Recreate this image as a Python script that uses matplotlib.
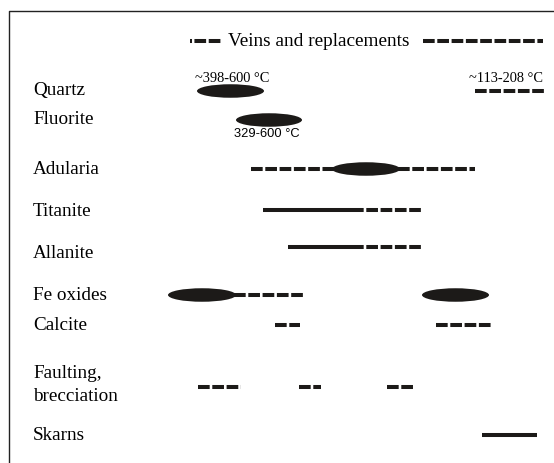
"""Paragenetic sequence sketch: minerals vs relative time (left = early)."""
import matplotlib
matplotlib.use("Agg")
import matplotlib.pyplot as plt
from matplotlib.patches import Ellipse

# rows (label, y-position of the bar)
minerals = ["Quartz", "Fluorite", "Adularia", "Titanite", "Allanite",
            "Fe oxides", "Calcite", "Faulting,\nbrecciation", "Skarns"]
row_y = [91, 120, 169, 210, 247, 295, 325, 387, 435]
label_y = [91, 120, 169, 212, 253, 295, 325, 385, 435]

# solid segments: (row, start, end)
solid = [("Titanite", 263, 352), ("Allanite", 288, 352), ("Skarns", 482, 537)]

# dashed segments: (row, start, end)
dashed = [
    ("Quartz", 475, 545),
    ("Adularia", 251, 334), ("Adularia", 398, 475),
    ("Titanite", 352, 423), ("Allanite", 352, 423),
    ("Fe oxides", 234, 305),
    ("Calcite", 275, 300), ("Calcite", 436, 491),
    ("Faulting,\nbrecciation", 198, 241),
    ("Faulting,\nbrecciation", 299, 321),
    ("Faulting,\nbrecciation", 387, 415),
]

# peak (ellipse) segments: (row, start, end)
peaks = [("Quartz", 197, 264), ("Fluorite", 236, 302), ("Adularia", 332, 400),
         ("Fe oxides", 168, 236), ("Fe oxides", 422, 489)]

# temperature notes: (text, x, y, font)
temps = [("~398-600 °C", 232, 78, "serif"), ("~113-208 °C", 506, 78, "serif"),
         ("329-600 °C", 267, 134, "sans")]

fig = plt.figure(figsize=(5.54, 4.63), dpi=100)
ax = fig.add_axes([0, 0, 1, 1])
ax.set_xlim(0, 554)
ax.set_ylim(463, 0)
ax.axis("off")

ink = "#1c1a18"
lw = 2.9
dash = (2.9, 0.65)
ypos = dict(zip(minerals, row_y))

# frame (left and top only visible)
ax.plot([9, 9, 554], [463, 11, 11], color="#222", lw=1.0)

serif = "Liberation Serif"
for name, y in zip(minerals, label_y):
    ax.text(33, y, name, family=serif, fontsize=13.8, va="center", ha="left",
            linespacing=1.5)

for name, x0, x1 in solid:
    ax.plot([x0, x1], [ypos[name]] * 2, color=ink, lw=lw, solid_capstyle="butt")

for name, x0, x1 in dashed:
    ax.plot([x0, x1], [ypos[name]] * 2, color=ink, lw=lw, dashes=dash,
            dash_capstyle="butt")

for name, x0, x1 in peaks:
    ax.add_patch(Ellipse(((x0 + x1) / 2, ypos[name]), x1 - x0, 13.5,
                         facecolor=ink, edgecolor="none"))

for txt, x, y, f in temps:
    fam = serif if f == "serif" else "Liberation Sans"
    size = 10.4 if f == "serif" else 9.3
    ax.text(x, y, txt, family=fam, fontsize=size, ha="center", va="center")

# legend
ax.text(319, 41, "Veins and replacements", family=serif, fontsize=13.9,
        ha="center", va="center")
ax.plot([190, 221], [41, 41], color=ink, lw=lw,
        dashes=(0.5, 0.6, 2.9, 0.65, 2.9, 6), dash_capstyle="butt")
ax.plot([423, 543], [41, 41], color=ink, lw=lw, dashes=dash, dash_capstyle="butt")

fig.savefig("out.png", dpi=100)
